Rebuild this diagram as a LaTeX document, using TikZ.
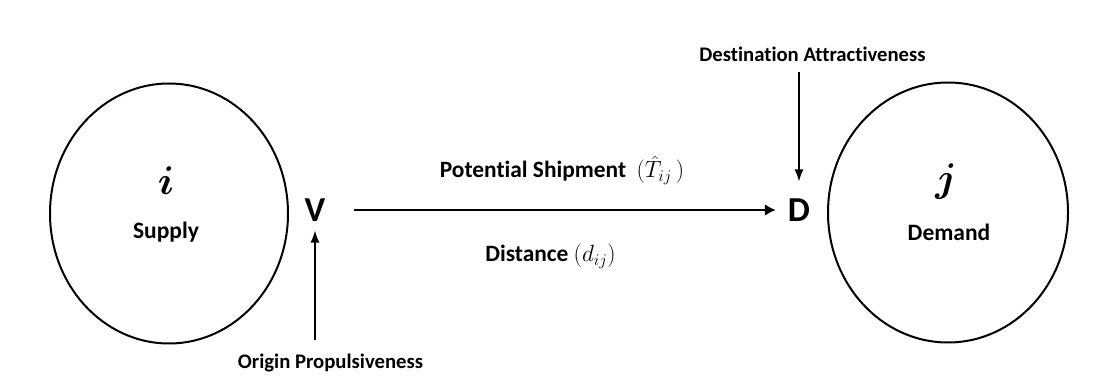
\RequirePackage{fix-cm}
\documentclass[tikz,border=0pt]{standalone}
\usepackage{amsmath,amssymb}
\usepackage{fontspec}
\setmainfont{Carlito}[Ligatures=NoCommon]
\usetikzlibrary{positioning,calc,shapes.geometric,arrows.meta}

\begin{document}
\begin{tikzpicture}[x=1pt,y=-1pt,
  region/.style={draw, ellipse, line width=2pt, inner sep=0pt, minimum width=238pt, minimum height=260pt},
  letter/.style={font=\fontsize{40}{42}\selectfont, inner sep=0pt},
  tag/.style={font=\fontsize{23.5}{26}\selectfont\bfseries, inner sep=0pt},
  pole/.style={font=\fontsize{35}{38}\selectfont\bfseries, inner sep=0pt},
  caption/.style={font=\fontsize{23.4}{26}\selectfont\bfseries, inner sep=0pt},
  note/.style={font=\fontsize{20.7}{24}\selectfont\bfseries, inner sep=0pt},
  flow/.style={line width=2.6pt, -{Latex[length=11pt,width=12pt]}},
  feed/.style={line width=1.4pt, -{Latex[length=12pt,width=9pt]}}]
\useasboundingbox (0,0) rectangle (1106,387);
% supply and demand regions
\node[region] (supply) at (169,213.5) {};
\node[region, minimum width=240pt] (demand) at (948,212.5) {};
\node[letter, anchor=base] (i) at (166,195) {$\boldsymbol{i}$};
\node[tag, anchor=base] (supplytag) at (166,239) {Supply};
\node[letter, anchor=base] (j) at (946,192) {$\boldsymbol{j}$};
\node[tag, anchor=base] (demandtag) at (949,241) {Demand};
% end points of the flow
\node[pole] (V) at (315,210) {V};
\node[pole] (D) at (799,210) {D};
\draw[flow, shorten <=28pt, shorten >=12pt] (V) -- (D);
\node[caption, anchor=base] (ship) at (562,178) {Potential Shipment\ \ $(\hat{T}_{ij}\,)$};
\node[caption, anchor=base] (dist) at (550.5,262) {Distance $(d_{ij})$};
% origin and destination factors
\node[note, anchor=base] (origin) at (330.5,368) {Origin Propulsiveness};
\node[note, anchor=base] (dest) at (812.5,62) {Destination Attractiveness};
\draw[feed, shorten <=13.5pt, shorten >=9pt] (origin.north -| V) -- (V.south);
\draw[feed, shorten <=10pt, shorten >=17pt] (dest.south -| D) -- (D.north);
\end{tikzpicture}
\end{document}
